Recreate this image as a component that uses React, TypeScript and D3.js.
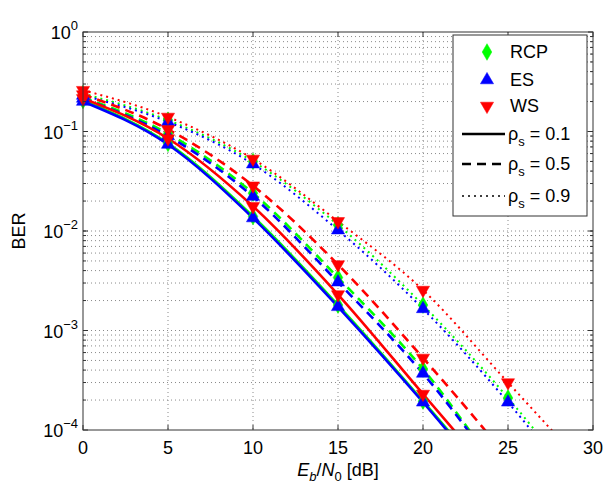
import React from 'react';
import * as d3 from 'd3';

// SNR grid (dB) used for both the analytical curves and the simulated markers
const snr = [0, 5, 10, 15, 20, 25, 30];

// BER values (values below 1e-4 fall outside the axes)
const rcpRho01 = [0.205, 0.076, 0.014, 1.8e-3, 1.95e-4, 1.9e-5, 1.7e-6];
const esRho01 = [0.2, 0.074, 0.0135, 1.73e-3, 1.9e-4, 1.8e-5, 1.6e-6];
const wsRho01 = [0.215, 0.085, 0.0177, 2.3e-3, 2.3e-4, 2.3e-5, 2.2e-6];

const rcpRho05 = [0.22, 0.095, 0.024, 3.4e-3, 4.1e-4, 3.0e-5, 3e-6];
const esRho05 = [0.215, 0.09, 0.0222, 3.06e-3, 3.7e-4, 3.0e-5, 2.8e-6];
const wsRho05 = [0.235, 0.105, 0.0285, 4.6e-3, 5.3e-4, 5.2e-5, 4e-6];

const rcpRho09 = [0.24, 0.13, 0.05, 0.0115, 1.8e-3, 2.1e-4, 1.8e-5];
const esRho09 = [0.23, 0.125, 0.047, 0.0102, 1.65e-3, 1.9e-4, 1.6e-5];
const wsRho09 = [0.26, 0.14, 0.053, 0.0125, 2.55e-3, 3.0e-4, 3.5e-5];

const xTicks = [0, 5, 10, 15, 20, 25, 30];
const yDecades = [0, -1, -2, -3, -4];
const schemes = ['RCP', 'ES', 'WS'];
const rhos = ['0.1', '0.5', '0.9'];

const colors: Record<string, string> = { RCP: '#00ff00', ES: '#0000ff', WS: '#ff0000' };
const dashes: Record<string, string> = { '0.1': 'none', '0.5': '9 6', '0.9': '2 4' };

const series = [
  { scheme: 'RCP', rho: '0.1', values: rcpRho01 },
  { scheme: 'ES', rho: '0.1', values: esRho01 },
  { scheme: 'WS', rho: '0.1', values: wsRho01 },
  { scheme: 'RCP', rho: '0.5', values: rcpRho05 },
  { scheme: 'ES', rho: '0.5', values: esRho05 },
  { scheme: 'WS', rho: '0.5', values: wsRho05 },
  { scheme: 'RCP', rho: '0.9', values: rcpRho09 },
  { scheme: 'ES', rho: '0.9', values: esRho09 },
  { scheme: 'WS', rho: '0.9', values: wsRho09 },
];

const W = 608;
const H = 491;
const left = 83;
const right = 593;
const top = 32;
const bottom = 430;
const font = '"Liberation Sans", Arial, Helvetica, sans-serif';

const x = d3.scaleLinear().domain([0, 30]).range([left, right]);
const y = d3.scaleLog().domain([1e-4, 1]).range([bottom, top]);

const markerPath: Record<string, string> = {
  RCP: d3.symbol(d3.symbolDiamond, 80)() as string,
  ES: d3.symbol(d3.symbolTriangle, 75)() as string,
  WS: d3.symbol(d3.symbolTriangle, 75)() as string,
};

function Marker({ scheme, cx, cy }: { scheme: string; cx: number; cy: number }) {
  const rot = scheme === 'WS' ? ' rotate(180)' : '';
  return (
    <path
      d={markerPath[scheme]}
      transform={`translate(${cx},${cy})${rot}`}
      fill={colors[scheme]}
      stroke={colors[scheme]}
      strokeWidth={0.5}
    />
  );
}

export default function App() {
  const line = d3
    .line<number>()
    .x((_, i) => x(snr[i]))
    .y((d) => y(d))
    .curve(d3.curveMonotoneX);

  const minorY = y.ticks().filter((v) => v > 1e-4 && v < 1);
  const majorY = yDecades.map((e) => Math.pow(10, e));

  // draw order: green under blue under red
  const drawOrder = ['RCP', 'ES', 'WS'];
  const ordered = [...series].sort(
    (a, b) => drawOrder.indexOf(a.scheme) - drawOrder.indexOf(b.scheme)
  );

  const legendX = 453;
  const legendY = 35;
  const legendW = 134;
  const legendH = 181;
  const rowY = [52, 80, 106, 134, 164, 196];

  return (
    <svg
      width={W}
      height={H}
      style={{ position: 'absolute', left: 0, top: 0, background: '#fff' }}
      fontFamily={font}
    >
      <defs>
        <clipPath id="plotClip">
          <rect x={left} y={top} width={right - left} height={bottom - top} />
        </clipPath>
      </defs>
      <rect x={0} y={0} width={W} height={H} fill="#fff" />

      {/* grid */}
      <g stroke="#8a8a8a" strokeWidth={1} strokeDasharray="1 3">
        {xTicks
          .filter((t) => t > 0 && t < 30)
          .map((t) => (
            <line key={'gx' + t} x1={x(t)} x2={x(t)} y1={top} y2={bottom} />
          ))}
        {minorY.map((v, i) => (
          <line key={'gy' + i} x1={left} x2={right} y1={y(v)} y2={y(v)} />
        ))}
      </g>

      {/* curves */}
      <g clipPath="url(#plotClip)" fill="none">
        {ordered.map((s) => (
          <path
            key={s.scheme + s.rho}
            d={line(s.values) as string}
            stroke={colors[s.scheme]}
            strokeWidth={s.rho === '0.9' ? 2 : 2.6}
            strokeDasharray={dashes[s.rho]}
          />
        ))}
      </g>

      {/* markers */}
      <g>
        {ordered.map((s) =>
          s.values.map((v, i) =>
            snr[i] <= 25 && v >= 1e-4 ? (
              <Marker
                key={s.scheme + s.rho + i}
                scheme={s.scheme}
                cx={x(snr[i])}
                cy={y(v)}
              />
            ) : null
          )
        )}
      </g>

      {/* axes box and ticks */}
      <g stroke="#333" strokeWidth={1} fill="none">
        <rect x={left} y={top} width={right - left} height={bottom - top} />
        {xTicks.map((t) => (
          <g key={'tx' + t}>
            <line x1={x(t)} x2={x(t)} y1={bottom} y2={bottom - 5} />
            <line x1={x(t)} x2={x(t)} y1={top} y2={top + 5} />
          </g>
        ))}
        {majorY.map((v) => (
          <g key={'ty' + v}>
            <line x1={left} x2={left + 5} y1={y(v)} y2={y(v)} />
            <line x1={right} x2={right - 5} y1={y(v)} y2={y(v)} />
          </g>
        ))}
        {minorY.map((v, i) => (
          <g key={'tm' + i}>
            <line x1={left} x2={left + 3} y1={y(v)} y2={y(v)} />
            <line x1={right} x2={right - 3} y1={y(v)} y2={y(v)} />
          </g>
        ))}
      </g>

      {/* tick labels */}
      <g fontSize={18} fill="#000">
        {xTicks.map((t) => (
          <text key={'lx' + t} x={x(t)} y={bottom + 24} textAnchor="middle">
            {t}
          </text>
        ))}
        {yDecades.map((e) => (
          <text key={'ly' + e} x={left - 5} y={y(Math.pow(10, e)) + 7} textAnchor="end">
            <tspan>10</tspan>
            <tspan dy={-9} fontSize={13}>
              {e === 0 ? '0' : '\u2212' + Math.abs(e)}
            </tspan>
          </text>
        ))}
      </g>

      {/* axis titles */}
      <text
        transform={`translate(25,${(top + bottom) / 2}) rotate(-90)`}
        textAnchor="middle"
        fontSize={18}
      >
        BER
      </text>
      <text x={(left + right) / 2} y={476} textAnchor="middle" fontSize={18}>
        <tspan fontStyle="italic">E</tspan>
        <tspan fontStyle="italic" fontSize={13} dy={5}>b</tspan>
        <tspan dy={-5}>/</tspan>
        <tspan fontStyle="italic">N</tspan>
        <tspan fontSize={13} dy={5}>0</tspan>
        <tspan dy={-5}> [dB]</tspan>
      </text>

      {/* legend */}
      <g>
        <rect
          x={legendX}
          y={legendY}
          width={legendW}
          height={legendH}
          fill="#fff"
          stroke="#333"
          strokeWidth={1}
        />
        {schemes.map((sc, i) => (
          <g key={'lg' + sc}>
            <Marker scheme={sc} cx={legendX + 34} cy={rowY[i]} />
            <text x={legendX + 57} y={rowY[i] + 6} fontSize={18}>
              {sc}
            </text>
          </g>
        ))}
        {rhos.map((r, i) => (
          <g key={'lr' + r}>
            <line
              x1={legendX + 9}
              x2={legendX + 52}
              y1={rowY[i + 3]}
              y2={rowY[i + 3]}
              stroke="#000"
              strokeWidth={r === '0.9' ? 1.5 : 2.6}
              strokeDasharray={dashes[r]}
            />
            <text x={legendX + 55} y={rowY[i + 3] + 6} fontSize={18}>
              <tspan>ρ</tspan>
              <tspan fontSize={13} dy={6}>s</tspan>
              <tspan dy={-6}> = {r}</tspan>
            </text>
          </g>
        ))}
      </g>
    </svg>
  );
}
